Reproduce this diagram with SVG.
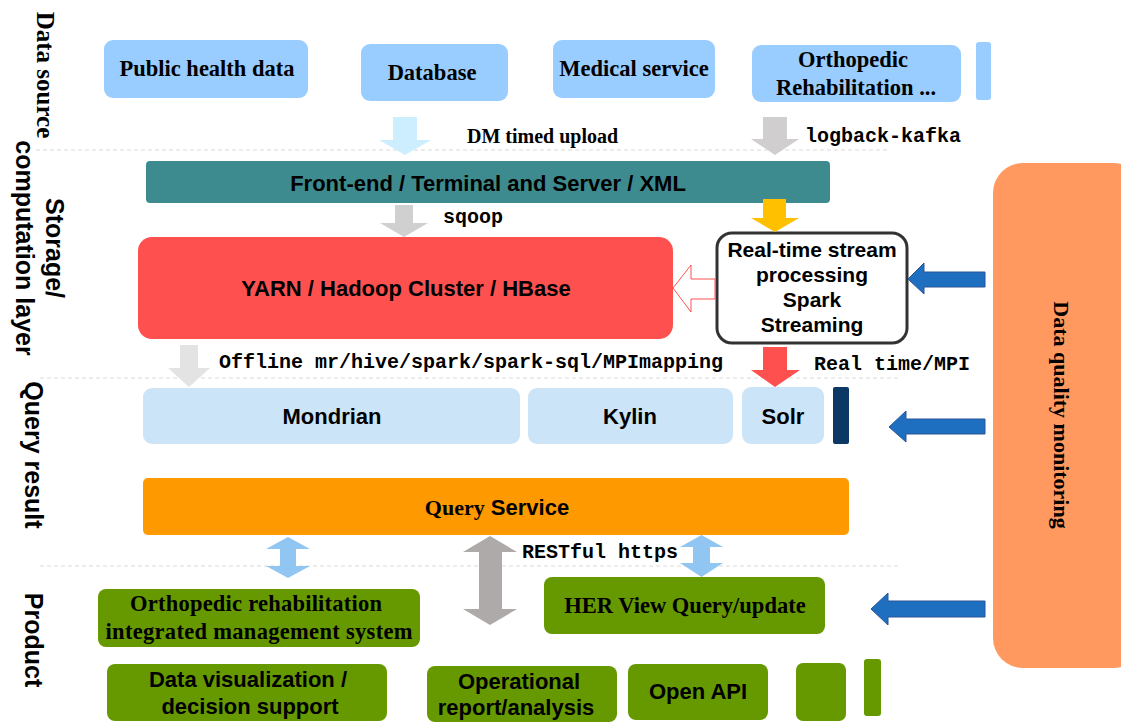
<svg xmlns="http://www.w3.org/2000/svg" width="1121" height="722" viewBox="0 0 1121 722">
<style>
.serif{font-family:"Liberation Serif","Times New Roman",serif;font-weight:bold;fill:#000}
.sans{font-family:"Liberation Sans",Arial,sans-serif;font-weight:bold;fill:#000}
.mono{font-family:"Liberation Mono","Courier New",monospace;font-weight:bold;fill:#000;font-size:20px}
.t22{font-size:22px}
.s23{font-size:22.5px}
.lay{font-size:25px}
.mid{text-anchor:middle}
.src{fill:#99CCFF}
.qry{fill:#CCE4F7}
.grn{fill:#669900}
.sep{stroke:#D9D9D9;stroke-width:1;stroke-dasharray:4 3;fill:none}
.blue{fill:#1F6FC0;stroke:#2B5597;stroke-width:1}
</style>
<rect width="1121" height="722" fill="#FFFFFF"/>

<g id="separators">
<line class="sep" x1="36" y1="150" x2="890" y2="150"/>
<line class="sep" x1="40" y1="378" x2="900" y2="378"/>
<line class="sep" x1="40" y1="566" x2="900" y2="566"/>
</g>

<g id="layer-labels">
<text class="serif lay mid" transform="translate(37,75) rotate(90)">Data source</text>
<text class="sans lay mid" transform="translate(46,248) rotate(90)">Storage/</text>
<text class="sans lay mid" transform="translate(16,248) rotate(90)">computation layer</text>
<text class="sans lay mid" transform="translate(25,455) rotate(90)">Query result</text>
<text class="sans lay mid" transform="translate(25,640) rotate(90)">Product</text>
</g>

<g id="node-public-health">
<rect class="src" x="104" y="40" width="204" height="58" rx="9"/>
<text class="serif s23 mid" x="207" y="76">Public health data</text>
</g>
<g id="node-database">
<rect class="src" x="361" y="44" width="147" height="57" rx="9"/>
<text class="serif s23 mid" x="432" y="80">Database</text>
</g>
<g id="node-medical">
<rect class="src" x="553" y="40" width="162" height="58" rx="9"/>
<text class="serif s23 mid" x="634" y="76">Medical service</text>
</g>
<g id="node-orthopedic">
<rect class="src" x="752" y="45" width="209" height="57" rx="9"/>
<text class="serif s23 mid" x="853" y="67">Orthopedic</text>
<text class="serif s23 mid" x="856" y="95">Rehabilitation  ...</text>
</g>
<g id="node-src-bar">
<rect class="src" x="976" y="42" width="15" height="58" rx="3"/>
</g>

<g id="node-frontend">
<rect x="146" y="161" width="684" height="42" rx="4" fill="#3D8B8F"/>
<text class="sans t22 mid" x="488" y="191">Front-end / Terminal and Server / XML</text>
</g>

<g id="node-yarn">
<rect x="138" y="237" width="535" height="102" rx="14" fill="#FF5050"/>
<text class="sans t22 mid" x="406" y="296">YARN / Hadoop Cluster / HBase</text>
</g>

<g id="node-realtime">
<rect x="717" y="233" width="190" height="110" rx="15" fill="#FFFFFF" stroke="#333333" stroke-width="3"/>
<text class="sans mid" font-size="21" x="812" y="257">Real-time stream</text>
<text class="sans mid" font-size="21" x="812" y="282">processing</text>
<text class="sans mid" font-size="21" x="812" y="307">Spark</text>
<text class="sans mid" font-size="21" x="812" y="332">Streaming</text>
</g>

<g id="node-mondrian">
<rect class="qry" x="143" y="388" width="377" height="56" rx="9"/>
<text class="sans t22 mid" x="332" y="424">Mondrian</text>
</g>
<g id="node-kylin">
<rect class="qry" x="528" y="388" width="205" height="56" rx="9"/>
<text class="sans t22 mid" x="630" y="424">Kylin</text>
</g>
<g id="node-solr">
<rect class="qry" x="742" y="387" width="82" height="57" rx="9"/>
<text class="sans t22 mid" x="783" y="424">Solr</text>
</g>
<g id="node-navy-bar">
<rect x="833" y="387" width="16" height="57" rx="2" fill="#0B3865"/>
</g>

<g id="node-query-service">
<rect x="143" y="478" width="706" height="57" rx="5" fill="#FF9900"/>
<text class="t22 mid" x="497" y="515"><tspan class="serif">Query</tspan><tspan class="sans">  Service</tspan></text>
</g>

<g id="node-dq">
<rect x="993" y="163" width="150" height="505" rx="30" fill="#FF995F"/>
<text class="serif t22 mid" transform="translate(1054,415) rotate(90)">Data quality monitoring</text>
</g>

<g id="node-ortho-system">
<rect class="grn" x="98" y="589" width="322" height="58" rx="8"/>
<text class="serif s23 mid" x="256" y="611" textLength="252" lengthAdjust="spacing">Orthopedic rehabilitation</text>
<text class="serif s23 mid" x="259" y="639" textLength="307" lengthAdjust="spacing">integrated management system</text>
</g>
<g id="node-her">
<rect class="grn" x="544" y="577" width="281" height="57" rx="8"/>
<text class="serif s23 mid" x="685" y="613">HER View Query/update</text>
</g>
<g id="node-dataviz">
<rect class="grn" x="107" y="664" width="280" height="57" rx="8"/>
<text class="sans t22 mid" x="248" y="687">Data visualization /</text>
<text class="sans t22 mid" x="250" y="714">decision support</text>
</g>
<g id="node-operational">
<rect class="grn" x="427" y="666" width="190" height="56" rx="8"/>
<text class="sans t22 mid" x="519" y="689">Operational</text>
<text class="sans t22 mid" x="516" y="715">report/analysis</text>
</g>
<g id="node-openapi">
<rect class="grn" x="628" y="664" width="140" height="56" rx="8"/>
<text class="sans t22 mid" x="698" y="699">Open API</text>
</g>
<g id="node-green-square">
<rect class="grn" x="796" y="663" width="50" height="58" rx="7"/>
</g>
<g id="node-green-bar">
<rect class="grn" x="864" y="659" width="17" height="57" rx="3"/>
</g>

<g id="connectors">
<polygon points="393,117 417,117 417,140 431,140 405,155 379,140 393,140" fill="#CCEEFF"/>
<polygon points="763,117 787,117 787,139 799,139 775,155 751,139 763,139" fill="#D0CECE"/>
<polygon points="395,205 413,205 413,223 428,223 404,237 380,223 395,223" fill="#D0D0D0"/>
<polygon points="763,199 786,199 786,218 799,218 775,232 751,218 763,218" fill="#FFC000"/>
<polygon points="673,288 691,265 691,279 715,279 715,299 691,299 691,312" fill="#FFFFFF" stroke="#FF5050" stroke-width="1"/>
<polygon points="180,345 198,345 198,368 210,368 189,387 168,368 180,368" fill="#E3E3E3"/>
<polygon points="763,347 787,347 787,370 800,370 775,387 751,370 763,370" fill="#FF5050"/>
<polygon class="blue" points="908,279 924,263 924,272 985,272 985,287 924,287 924,294"/>
<polygon class="blue" points="889,427 906,411 906,419 985,419 985,434 906,434 906,442"/>
<polygon class="blue" points="871,609 888,593 888,601 985,601 985,617 888,617 888,625"/>
<polygon points="288,537 310,549 296,549 296,566 310,566 288,578 266,566 280,566 280,549 266,549" fill="#92C6F2"/>
<polygon points="701.5,535 723,547 710,547 710,563 723,563 701.5,577 680,563 693,563 693,547 680,547" fill="#92C6F2"/>
<polygon points="490,536 517,552 502,552 502,609 517,609 490,625 463,609 479,609 479,552 463,552" fill="#AEAAAA"/>
<text class="serif" font-size="20" x="467" y="143">DM timed upload</text>
<text class="mono" x="805" y="142">logback-kafka</text>
<text class="mono" font-size="19" x="443" y="223">sqoop</text>
<text class="mono" x="219" y="368">Offline mr/hive/spark/spark-sql/MPImapping</text>
<text class="mono" x="814" y="370">Real time/MPI</text>
<text class="mono" x="522" y="558">RESTful https</text>
</g>
</svg>
